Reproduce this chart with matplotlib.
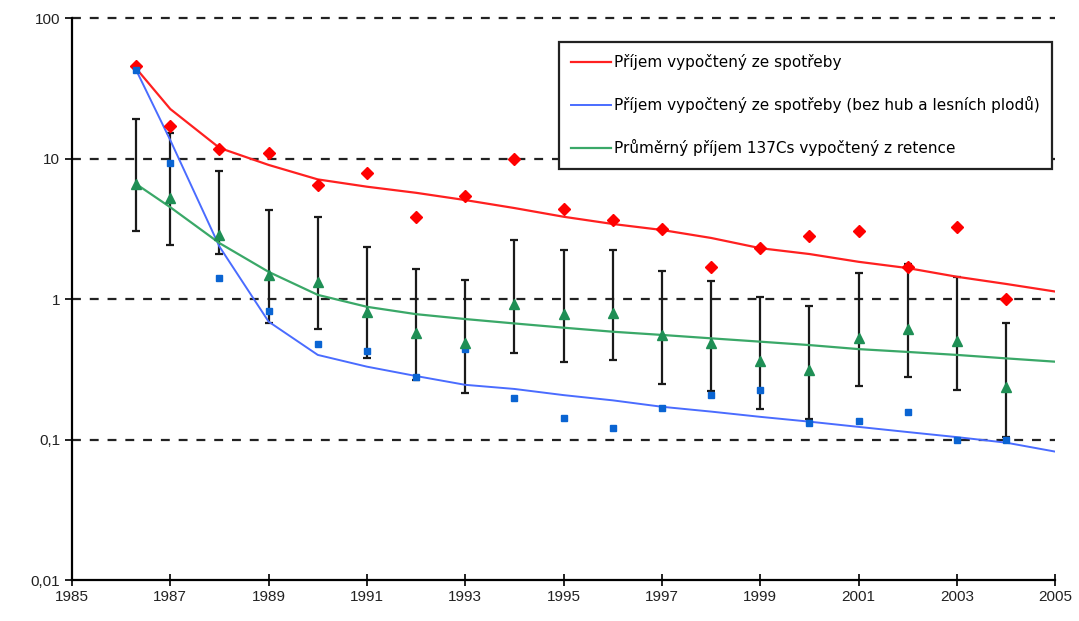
import numpy as np
import matplotlib
matplotlib.use("Agg")
import matplotlib.pyplot as plt
from matplotlib.ticker import FixedLocator, FixedFormatter, NullLocator

plt.rcParams['font.family'] = ['Liberation Sans', 'DejaVu Sans']

# measured points (first point is mid-1986, after Chernobyl)
years = [1986.3, 1987, 1988, 1989, 1990, 1991, 1992, 1993, 1994, 1995,
         1996, 1997, 1998, 1999, 2000, 2001, 2002, 2003, 2004]
consumption = [45.5, 17.0, 11.7, 10.9, 6.5, 7.9, 3.84, 5.4, 10.0, 4.37,
               3.65, 3.15, 1.70, 2.31, 2.81, 3.05, 1.69, 3.27, 1.0]
consumption_nofungi = [42.7, 9.3, 1.41, 0.82, 0.48, 0.43, 0.28, 0.44, 0.197, 0.143,
                       0.121, 0.167, 0.207, 0.225, 0.132, 0.136, 0.158, 0.10, 0.10]
retention = [6.6, 5.2, 2.86, 1.48, 1.33, 0.81, 0.575, 0.486, 0.92, 0.78,
             0.80, 0.555, 0.49, 0.364, 0.313, 0.525, 0.61, 0.505, 0.235]
retention_hi = [19.1, 15.3, 8.2, 4.3, 3.84, 2.34, 1.63, 1.37, 2.63, 2.23,
                2.23, 1.58, 1.35, 1.04, 0.89, 1.52, 1.77, 1.43, 0.68]
retention_lo = [3.05, 2.42, 2.1, 0.675, 0.61, 0.38, 0.265, 0.216, 0.415, 0.355,
                0.368, 0.25, 0.223, 0.165, 0.14, 0.24, 0.28, 0.225, 0.105]

# fitted trend curves
fit_years = [1986.3, 1987, 1988, 1989, 1990, 1991, 1992, 1993, 1994, 1995,
             1996, 1997, 1998, 1999, 2000, 2001, 2002, 2003, 2004, 2005]
fit_consumption = [44, 22.5, 11.9, 9.0, 7.1, 6.3, 5.7, 5.06, 4.44, 3.85,
                   3.42, 3.1, 2.72, 2.3, 2.09, 1.84, 1.66, 1.44, 1.28, 1.13]
fit_nofungi = [43, 13.5, 2.36, 0.69, 0.40, 0.33, 0.283, 0.245, 0.229, 0.207,
               0.19, 0.171, 0.158, 0.145, 0.134, 0.123, 0.113, 0.104, 0.095, 0.082]
fit_retention = [6.6, 4.5, 2.5, 1.56, 1.07, 0.88, 0.78, 0.72, 0.67, 0.625,
                 0.585, 0.555, 0.525, 0.497, 0.47, 0.44, 0.42, 0.40, 0.378, 0.358]

labels = ["Příjem vypočtený ze spotřeby",
          "Příjem vypočtený ze spotřeby (bez hub a lesních plodů)",
          "Průměrný příjem 137Cs vypočtený z retence"]

fig = plt.figure(figsize=(10.79, 6.21), dpi=100)
ax = fig.add_axes([0.0667, 0.066, 0.9113, 0.905])
ax.set_yscale('log')

yerr = [np.array(retention) - np.array(retention_lo),
        np.array(retention_hi) - np.array(retention)]
ax.errorbar(years, retention, yerr=yerr, fmt='none', ecolor='#1a1a1a',
            elinewidth=1.6, capsize=3, capthick=1.6, zorder=2)

ax.plot(fit_years, fit_consumption, color='#ff2020', lw=1.6, label=labels[0], zorder=3)
ax.plot(fit_years, fit_nofungi, color='#4a6cff', lw=1.4, label=labels[1], zorder=3)
ax.plot(fit_years, fit_retention, color='#3aa868', lw=1.6, label=labels[2], zorder=3)

ax.plot(years, consumption, 'D', color='#ff0000', ms=6, zorder=4)
ax.plot(years, consumption_nofungi, 's', color='#0a64d2', ms=5, zorder=4)
ax.plot(years, retention, '^', color='#1f8f55', ms=7, zorder=4)

ax.set_xlim(1985, 2005)
ax.set_ylim(0.01, 100)
ax.xaxis.set_major_locator(FixedLocator(range(1985, 2006, 2)))
ax.yaxis.set_major_locator(FixedLocator([0.01, 0.1, 1, 10, 100]))
ax.yaxis.set_major_formatter(FixedFormatter(["0,01", "0,1", "1", "10", "100"]))
ax.yaxis.set_minor_locator(NullLocator())
for y in [0.1, 1, 10, 100]:
    ax.axhline(y, color='#222222', ls=(0, (4, 4)), lw=1.6, zorder=1, clip_on=False)

for s in ['top', 'right']:
    ax.spines[s].set_visible(False)
for s in ['left', 'bottom']:
    ax.spines[s].set_linewidth(1.6)
ax.tick_params(axis='both', which='major', direction='out', length=6, width=1.4,
               labelsize=11, colors='#222222')
ax.tick_params(axis='x', direction='inout', length=8)
ax.tick_params(axis='y', direction='inout', length=10)

leg = ax.legend(loc='upper right', bbox_to_anchor=(0.975, 0.932),
                bbox_transform=fig.transFigure, frameon=True, framealpha=1,
                prop={'family': 'DejaVu Sans', 'size': 11},
                fancybox=False, labelspacing=1.7, handlelength=2.6,
                handletextpad=0.2, borderpad=0.8, borderaxespad=0)
leg.get_frame().set_edgecolor('#222222')
leg.get_frame().set_linewidth(1.6)
leg.set_zorder(10)

plt.savefig("out.png", dpi=100)
